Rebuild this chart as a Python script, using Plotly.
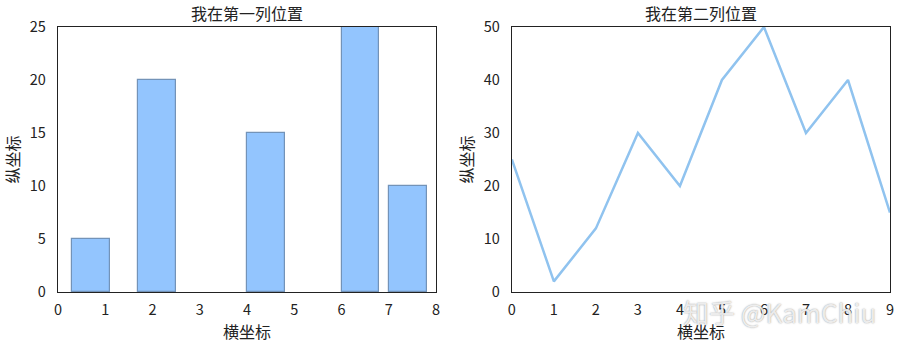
import plotly.graph_objects as go
from plotly.subplots import make_subplots

bar_x = [0.7, 2.09, 4.4, 6.4, 7.4]
bar_y = [5, 20, 15, 25, 10]
line_x = [0, 1, 2, 3, 4, 5, 6, 7, 8, 9]
line_y = [25, 2, 12, 30, 20, 40, 50, 30, 40, 15]
titles = ["我在第一列位置", "我在第二列位置"]
xlabel = "横坐标"
ylabel = "纵坐标"
watermark = "知乎 @KamChiu"

FONT = "Noto Sans CJK SC, Open Sans, sans-serif"

fig = make_subplots(rows=1, cols=2, horizontal_spacing=0.091)
fig.add_trace(go.Bar(x=bar_x, y=bar_y, width=0.8,
                     marker=dict(color="#93c5fe", line=dict(color="#7393b8", width=1.2))),
              row=1, col=1)
fig.add_trace(go.Scatter(x=line_x, y=line_y, mode="lines",
                         line=dict(color="#90c3ef", width=2.5)),
              row=1, col=2)

axis_common = dict(showline=True, mirror=True, linecolor="#222", linewidth=1.4,
                   showgrid=False, zeroline=False, ticks="",
                   tickfont=dict(family=FONT, size=14.5, color="#222"),
                   title_font=dict(family=FONT, size=16, color="#222"))

fig.update_xaxes(axis_common)
fig.update_yaxes(axis_common)
fig.update_xaxes(range=[0, 8], dtick=1, title_text=xlabel, title_standoff=6, ticklabelstandoff=4, row=1, col=1)
fig.update_yaxes(range=[0, 25], dtick=5, title_text=ylabel, title_standoff=6, ticklabelstandoff=8, row=1, col=1)
fig.update_xaxes(range=[0, 9], dtick=1, title_text=xlabel, title_standoff=6, ticklabelstandoff=4, row=1, col=2)
fig.update_yaxes(range=[0, 50], dtick=10, title_text=ylabel, title_standoff=6, ticklabelstandoff=8, row=1, col=2)

fig.update_layout(
    width=904, height=349,
    margin=dict(l=58, r=10, t=27, b=57),
    plot_bgcolor="white", paper_bgcolor="white",
    showlegend=False,
    font=dict(family=FONT, color="#222"),
    bargap=0,
)

for i, t in enumerate(titles):
    xd = fig.layout["xaxis" if i == 0 else "xaxis2"].domain
    fig.add_annotation(text=t, x=(xd[0] + xd[1]) / 2, y=1.0, xref="paper", yref="paper",
                       xanchor="center", yanchor="bottom", yshift=0, showarrow=False,
                       font=dict(family=FONT, size=16, color="#222"))

fig.add_annotation(text=watermark, x=0.985, y=-0.075, xref="paper", yref="paper",
                   xanchor="right", yanchor="middle", showarrow=False,
                   font=dict(family=FONT, size=26, color="rgba(250,250,250,0.85)",
                             shadow="0px 0px 1.5px #777"))

fig.write_html("out.html")
